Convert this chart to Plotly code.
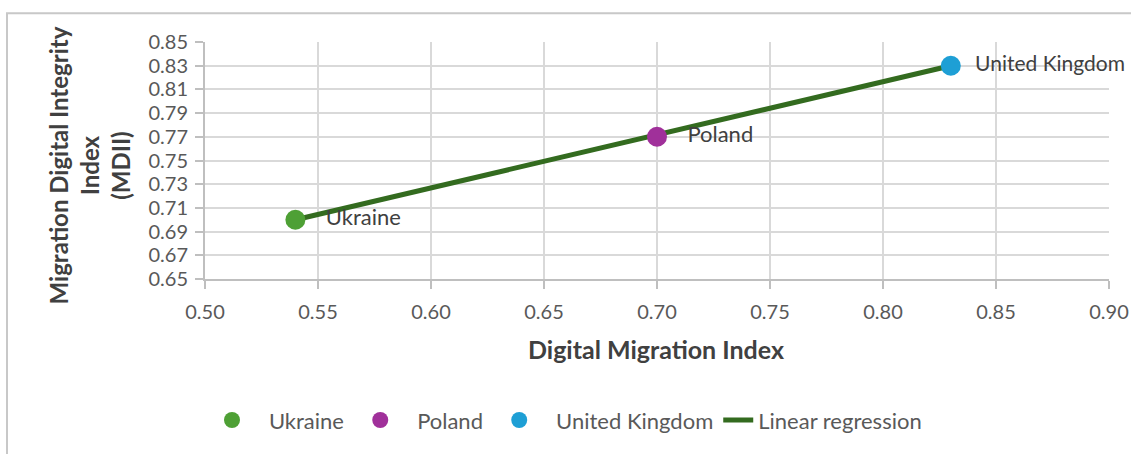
import plotly.graph_objects as go

countries = ["Ukraine", "Poland", "United Kingdom"]
dmi = [0.54, 0.70, 0.83]
mdii = [0.70, 0.77, 0.83]
colors = ["#4EA035", "#A0309A", "#1E9FD5"]

reg_x = [0.54, 0.83]
reg_y = [0.70, 0.83]

x_ticks = [0.50, 0.55, 0.60, 0.65, 0.70, 0.75, 0.80, 0.85, 0.90]
y_ticks = [0.65, 0.67, 0.69, 0.71, 0.73, 0.75, 0.77, 0.79, 0.81, 0.83, 0.85]

FONT = "Lato"
NB = "\u00a0"
fig = go.Figure()

fig.add_trace(go.Scatter(
    x=reg_x, y=reg_y, mode="lines", name="Linear regression",
    line=dict(color="#336B1F", width=5), legendrank=1000,
))

for i, (c, x, y, col) in enumerate(zip(countries, dmi, mdii, colors)):
    pad = NB * (3 if i < 2 else 2)
    trail = NB * 2 if i < 2 else ""
    fig.add_trace(go.Scatter(
        x=[x], y=[y], mode="markers+text", name=NB * 3 + c + trail,
        marker=dict(size=20, color=col),
        text=[pad + c], textposition="middle right",
        textfont=dict(size=22 if i < 2 else 21, color="#404040", family=FONT),
        cliponaxis=False, legendrank=10 + i,
    ))

L, R, T, B = 205, 22, 42, 172
W, H = 1131, 454
pw, ph = W - L - R, H - T - B

def px2x(p):
    return (p - L) / pw

def py2y(p):
    return (H - B - p) / ph

axis_common = dict(
    showgrid=True, gridcolor="#D9D9D9", gridwidth=2,
    showline=True, linecolor="#BFBFBF", linewidth=2,
    ticks="outside", ticklen=8, tickcolor="#BFBFBF", tickwidth=2,
    tickfont=dict(size=20, color="#595959", family=FONT),
    zeroline=False, automargin=False,
)

fig.update_layout(
    width=W, height=H,
    margin=dict(l=L, r=R, t=T, b=B),
    paper_bgcolor="white", plot_bgcolor="white",
    font=dict(family=FONT, color="#595959", size=18),
    showlegend=True,
    legend=dict(orientation="h", x=px2x(212), y=py2y(425), xanchor="left",
                yanchor="middle", font=dict(size=22, color="#595959", family=FONT),
                itemwidth=30),
    xaxis=dict(range=[0.50, 0.90], tickvals=x_ticks,
               ticktext=[f"{v:.2f}" for v in x_ticks],
               ticklabelstandoff=6, **axis_common),
    yaxis=dict(range=[0.65, 0.85], tickvals=y_ticks,
               ticktext=[f"{v:.2f}" for v in y_ticks],
               ticklabelstandoff=3, **axis_common),
    shapes=[dict(type="rect", xref="paper", yref="paper",
                 x0=px2x(7), x1=px2x(1140), y0=py2y(470), y1=py2y(13),
                 line=dict(color="#C8C8C8", width=2), layer="below")],
    annotations=[
        dict(text="<b>Digital Migration Index</b>", xref="paper", yref="paper",
             x=px2x(656), y=py2y(353), showarrow=False,
             font=dict(size=25, color="#404040", family=FONT),
             xanchor="center", yanchor="middle"),
        dict(text="<b>Migration Digital Integrity<br>Index<br>(MDII)</b>",
             xref="paper", yref="paper", x=px2x(89), y=py2y(167),
             showarrow=False, textangle=-90,
             font=dict(size=24, color="#404040", family=FONT),
             xanchor="center", yanchor="middle"),
    ],
)

fig.write_html("out.html")
